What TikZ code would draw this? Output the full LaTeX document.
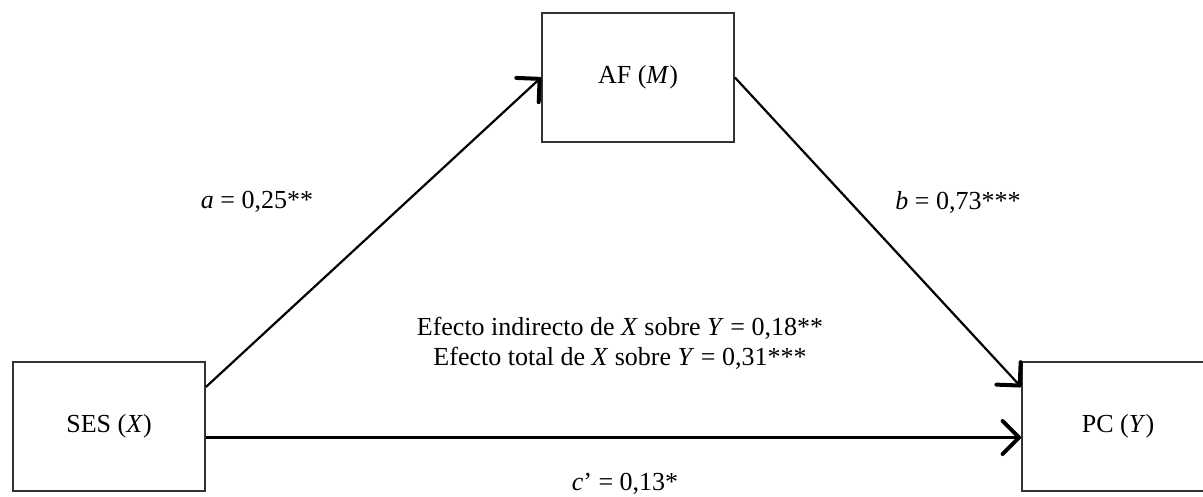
\documentclass[tikz,border=0pt]{standalone}
\usepackage{fontspec}
\setmainfont{Liberation Serif}
\usepackage{tikz}
\usetikzlibrary{arrows.meta,positioning,calc}

\begin{document}
\begin{tikzpicture}[
  x=0.5pt, y=-0.5pt,
  font=\fontsize{13}{15}\selectfont,
  var/.style={draw=black!80, line width=0.9pt, fill=white, minimum width=96pt, minimum height=64.5pt, inner sep=0pt},
  path/.style={->, line width=1.1pt},
  coef/.style={align=center, inner sep=1pt},
  >={Straight Barb[length=2.9mm, width=5.8mm, line width=2pt, round]}
]
\useasboundingbox (0,0) rectangle (1203,497);
% Mediation triangle: X at left, M on top, Y at right
\node[var] (ses) at (109,426.5) {SES (\textit{X})};
\node[var] (af) at (638,77.5) {AF (\textit{M})};
\node[var] (pc) at (1118,426.5) {PC (\textit{Y})};

\draw[path] ([yshift=19.75pt]ses.east) -- (af.west);
\draw[path] (af.east) -- ([yshift=19.75pt]pc.west);
\draw[path] ([yshift=-5.5pt]ses.east) -- ([yshift=-5.5pt]pc.west);

% Coefficients
\node[coef] (a) at (257,202) {\textit{a} = 0,25**};
\node[coef] (b) at (958,202) {\textit{b} = 0,73***};
\node[coef] (ind) at (620,343) {Efecto indirecto de \textit{X} sobre \textit{Y} = 0,18**\\ Efecto total de \textit{X} sobre \textit{Y} = 0,31***};
\node[coef] (c) at (625,484) {\textit{c}’ = 0,13*};
\end{tikzpicture}
\end{document}
